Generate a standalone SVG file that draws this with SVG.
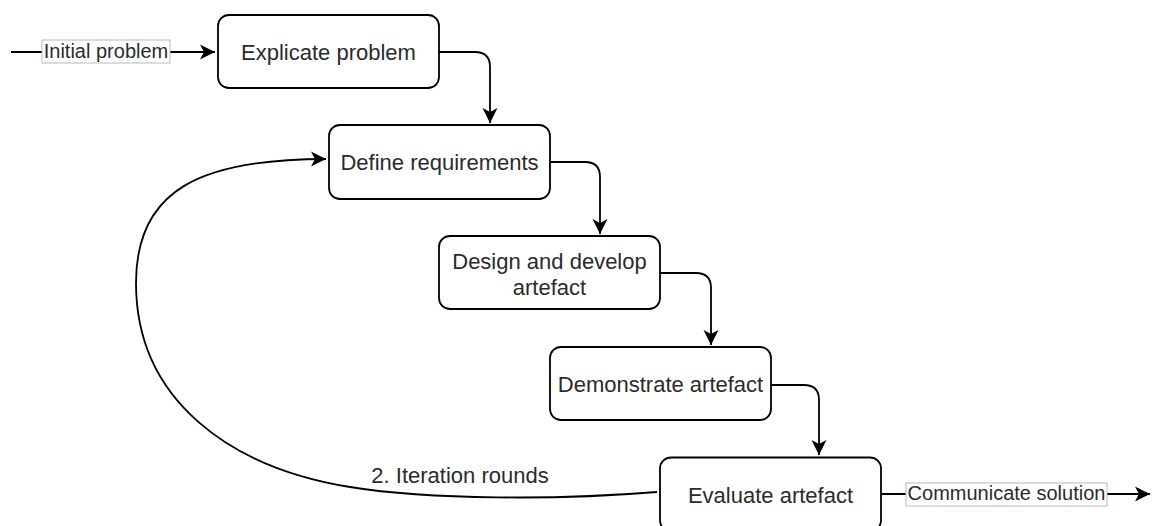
<svg xmlns="http://www.w3.org/2000/svg" width="1153" height="526" viewBox="0 0 1153 526">
  <style>
    .node rect { fill: #ffffff; stroke: #000000; stroke-width: 1.8; }
    .node text { font-family: "Liberation Sans", Arial, sans-serif; font-size: 22px; fill: #2b2b2b; text-anchor: middle; }
    .edge { fill: none; stroke: #000000; stroke-width: 1.8; }
    .lbl rect { fill: #ffffff; stroke: #b8b8b8; stroke-width: 1; }
    .lbl text { font-family: "Liberation Sans", Arial, sans-serif; font-size: 20px; fill: #2b2b2b; text-anchor: middle; }
    .plain { font-family: "Liberation Sans", Arial, sans-serif; font-size: 22px; fill: #2b2b2b; text-anchor: middle; }
  </style>
  <defs>
    <marker id="arrow" markerUnits="userSpaceOnUse" viewBox="-16 -8 17 16" refX="0" refY="0" markerWidth="17" markerHeight="16" orient="auto">
      <path d="M0,0 L-15,-7.5 L-11,0 L-15,7.5 Z" fill="#000000"/>
    </marker>
  </defs>

  <!-- connectors -->
  <g id="connectors">
    <path class="edge" d="M11,52 H215" stroke="#555555" marker-end="url(#arrow)"/>
    <path class="edge" d="M439,52 H475 Q490,52 490,67 V123" marker-end="url(#arrow)"/>
    <path class="edge" d="M550,162 H585 Q600,162 600,177 V234" marker-end="url(#arrow)"/>
    <path class="edge" d="M660,273 H696 Q711,273 711,288 V345" marker-end="url(#arrow)"/>
    <path class="edge" d="M771,385 H804 Q819,385 819,400 V455" marker-end="url(#arrow)"/>
    <path class="edge" d="M881,494 H1150" marker-end="url(#arrow)"/>
    <path class="edge" d="M657,492 C560,500 430,500 350,487 C230,467.5 136,400 136,283 C136,190 200,159 326,159" marker-end="url(#arrow)"/>

    <g class="lbl">
      <rect x="42" y="40" width="128" height="23"/>
      <text x="106" y="58">Initial problem</text>
    </g>
    <g class="lbl">
      <rect x="906" y="483" width="201" height="23"/>
      <text x="1006.5" y="500">Communicate solution</text>
    </g>
    <text class="plain" x="460" y="483">2. Iteration rounds</text>
  </g>

  <!-- process steps -->
  <g id="explicate" class="node">
    <rect x="218" y="15" width="221" height="73" rx="11"/>
    <text x="328.5" y="60">Explicate problem</text>
  </g>
  <g id="define" class="node">
    <rect x="329" y="125" width="221" height="74" rx="11"/>
    <text x="439.5" y="170">Define requirements</text>
  </g>
  <g id="design" class="node">
    <rect x="439" y="236" width="221" height="73" rx="11"/>
    <text x="549.5" y="268.5">Design and develop</text>
    <text x="549.5" y="294.5">artefact</text>
  </g>
  <g id="demonstrate" class="node">
    <rect x="550" y="347" width="221" height="73" rx="11"/>
    <text x="660.5" y="392">Demonstrate artefact</text>
  </g>
  <g id="evaluate" class="node">
    <rect x="660" y="457.5" width="221" height="74" rx="11"/>
    <text x="770.5" y="502.5">Evaluate artefact</text>
  </g>
</svg>
